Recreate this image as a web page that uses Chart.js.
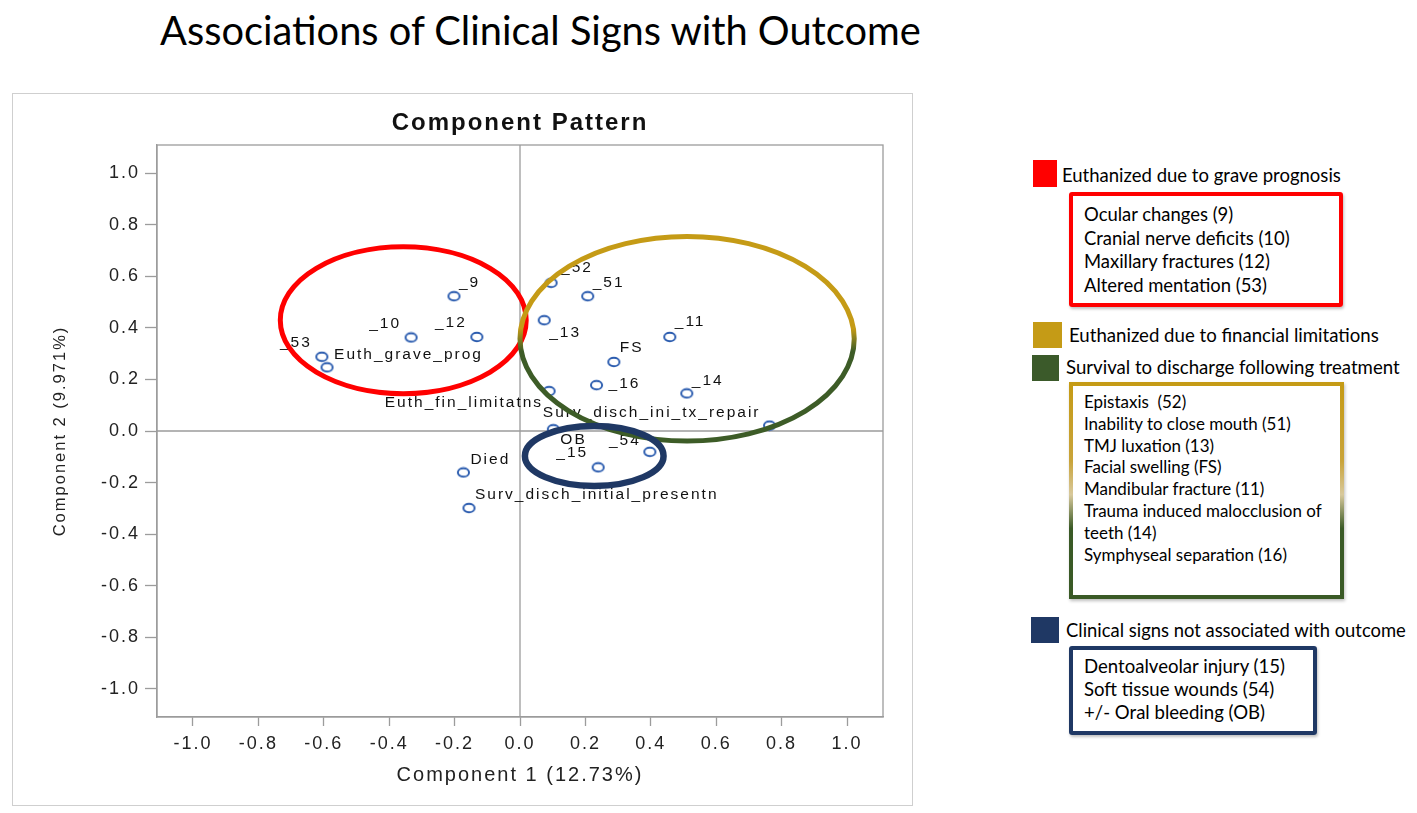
<!DOCTYPE html>
<html>
<head>
<meta charset="utf-8">
<title>Associations of Clinical Signs with Outcome</title>
<script src="https://cdn.jsdelivr.net/npm/chart.js@4.4.1/dist/chart.umd.min.js"></script>
<style>
  body { margin: 0; width: 1417px; height: 813px; background: #fff; position: relative; overflow: hidden;
         font-family: Lato, "Noto Sans", sans-serif; color: #000; }
  .abs { position: absolute; }
  .line1 { display: flex; align-items: center; white-space: pre; }
  .line1 span { display: inline-block; }
  #frame { left: 12px; top: 93px; width: 899px; height: 711px; border: 1.5px solid #cfcfcf; }
  .sq { position: absolute; }
  .box { position: absolute; box-sizing: border-box; padding-left: 11px; box-shadow: 1px 2px 3px rgba(0,0,0,0.25); }
  .box div { white-space: pre; }
  .box span { display: inline-block; }
  #redBox { left: 1069px; top: 192px; width: 274px; height: 115px; border: 4px solid #ff0000; border-radius: 3px;
            padding-top: 7px; line-height: 23.5px; }
  #mixBox { left: 1069px; top: 382px; width: 275px; height: 217px; border: 4px solid;
            border-image: linear-gradient(to bottom, #c59b16 0%, #c9a43a 36%, #d8c99c 52%, #3a5a26 68%, #3a5a26 100%) 1;
            padding-top: 5px; line-height: 21.8px; }
  #navyBox { left: 1069px; top: 646px; width: 248px; height: 89px; border: 4px solid #1f3864; border-radius: 3px;
             padding-top: 5px; line-height: 23px; }
</style>
</head>
<body>
<div class="abs line1" id="mainTitle" style="left:160px; top:9px; height:40px;"><span data-fit="761">Associations of Clinical Signs with Outcome</span></div>

<div class="abs" id="frame"><canvas id="myChart" width="899" height="711"></canvas></div>

<div class="sq" style="left:1033px; top:160px; width:24px; height:27px; background:#ff0000;"></div>
<div class="abs line1" style="left:1062px; top:163px; height:24px;"><span data-fit="279">Euthanized due to grave prognosis</span></div>
<div class="box" id="redBox">
  <div><span>Ocular changes (9)</span></div>
  <div><span data-ref="206">Cranial nerve deficits (10)</span></div>
  <div><span>Maxillary fractures (12)</span></div>
  <div><span>Altered mentation (53)</span></div>
</div>

<div class="sq" style="left:1033px; top:322px; width:29px; height:26px; background:#c59b16;"></div>
<div class="abs line1" style="left:1069px; top:323px; height:24px;"><span data-fit="310">Euthanized due to financial limitations</span></div>
<div class="sq" style="left:1032px; top:355px; width:27px; height:26px; background:#3b5a2a;"></div>
<div class="abs line1" style="left:1066px; top:355px; height:24px;"><span data-fit="334">Survival to discharge following treatment</span></div>
<div class="box" id="mixBox">
  <div><span>Epistaxis  (52)</span></div>
  <div><span data-ref="207">Inability to close mouth (51)</span></div>
  <div><span>TMJ luxation (13)</span></div>
  <div><span>Facial swelling (FS)</span></div>
  <div><span>Mandibular fracture (11)</span></div>
  <div><span>Trauma induced malocclusion of</span></div>
  <div><span>teeth (14)</span></div>
  <div><span>Symphyseal separation (16)</span></div>
</div>

<div class="sq" style="left:1031px; top:617px; width:28px; height:26px; background:#1f3864;"></div>
<div class="abs line1" style="left:1066px; top:618px; height:24px;"><span data-fit="340">Clinical signs not associated with outcome</span></div>
<div class="box" id="navyBox">
  <div><span data-ref="201">Dentoalveolar injury (15)</span></div>
  <div><span>Soft tissue wounds (54)</span></div>
  <div><span>+/- Oral bleeding (OB)</span></div>
</div>

<script>
// loadings
const pointLabels = ["_9", "_10", "_12", "_53", "Euth_grave_prog", "_52", "_51", "_13", "_11", "FS", "_16", "_14",
  "Euth_fin_limitatns", "Surv_disch_ini_tx_repair", "OB", "_54", "_15", "Died", "Surv_disch_initial_presentn"];
const component1 = [-0.202, -0.333, -0.132, -0.606, -0.590, 0.095, 0.207, 0.074, 0.458, 0.287, 0.234, 0.510,
  0.089, 0.763, 0.102, 0.397, 0.239, -0.173, -0.156];
const component2 = [0.523, 0.363, 0.365, 0.288, 0.247, 0.575, 0.523, 0.430, 0.365, 0.268, 0.178, 0.146,
  0.155, 0.021, 0.007, -0.081, -0.141, -0.161, -0.299];
const axisTicks = [-1.0, -0.8, -0.6, -0.4, -0.2, 0.0, 0.2, 0.4, 0.6, 0.8, 1.0];

// outcome groups circled on the plot (centre and radii in component units)
const groupNames = ["Euthanized due to grave prognosis", "Financial limitations / survival to discharge", "Not associated with outcome"];
const groupCenterX = [-0.357, 0.511, 0.227];
const groupCenterY = [0.430, 0.358, -0.097];
const groupRadiusX = [0.376, 0.511, 0.212];
const groupRadiusY = [0.285, 0.397, 0.116];

const plotFont = '"Liberation Sans", Arial, sans-serif';

// where each label sits next to its point: [dx, dy, align]
const labelPlacement = {
  "_9": [5, -14, "left"], "_10": [-10, -14, "right"], "_12": [-10, -14, "right"], "_53": [-10, -14, "right"],
  "Euth_grave_prog": [7, -13, "left"], "_52": [10, -15, "left"], "_51": [5, -14, "left"], "_13": [5, 13, "left"],
  "_11": [5, -15, "left"], "FS": [6, -14, "left"], "_16": [12, -1, "left"], "_14": [5, -13, "left"],
  "Euth_fin_limitatns": [-6, 12, "right"], "Surv_disch_ini_tx_repair": [-9, -13, "right"], "OB": [7, 11, "left"],
  "_54": [-9, -11, "right"], "_15": [-10, -15, "right"], "Died": [7, -13, "left"],
  "Surv_disch_initial_presentn": [6, -13, "left"]
};
const ellipseStyle = [
  { top: "#ff0000", bottom: "#ff0000", width: 5 },
  { top: "#c59b16", bottom: "#3d5c27", width: 5 },
  { top: "#1f3864", bottom: "#1f3864", width: 6.5 }
];

// fit the legend text widths
document.querySelectorAll("[data-fit]").forEach((el) => {
  el.style.fontSize = "20px";
  const w = el.getBoundingClientRect().width;
  el.style.fontSize = (20 * Number(el.dataset.fit) / w).toFixed(2) + "px";
});
document.querySelectorAll("[data-ref]").forEach((el) => {
  el.style.fontSize = "20px";
  const w = el.getBoundingClientRect().width;
  el.closest(".box").style.fontSize = (20 * Number(el.dataset.ref) / w).toFixed(2) + "px";
  el.style.fontSize = "";
});

// SAS-style open marker, a little wider than tall
const marker = document.createElement("canvas");
marker.width = 15;
marker.height = 12;
(function () {
  const c = marker.getContext("2d");
  c.fillStyle = "#ffffff";
  c.strokeStyle = "#2b5caf";
  c.lineWidth = 1.9;
  c.beginPath();
  c.ellipse(7.5, 6, 5.6, 4.3, 0, 0, Math.PI * 2);
  c.fill();
  c.stroke();
})();

const spacing = {
  id: "spacing",
  beforeDraw(chart) {
    chart.ctx.letterSpacing = "2px";
  }
};

const refLines = {
  id: "refLines",
  beforeDatasetsDraw(chart) {
    const { ctx, chartArea: a, scales: { x, y } } = chart;
    ctx.save();
    ctx.strokeStyle = "#9c9c9c";
    ctx.lineWidth = 1.3;
    ctx.strokeRect(a.left, a.top, a.right - a.left, a.bottom - a.top);
    const x0 = x.getPixelForValue(0);
    const y0 = y.getPixelForValue(0);
    ctx.beginPath();
    ctx.moveTo(x0, a.top);
    ctx.lineTo(x0, a.bottom);
    ctx.moveTo(a.left, y0);
    ctx.lineTo(a.right, y0);
    ctx.stroke();
    ctx.restore();
  }
};

const labels = {
  id: "labels",
  afterDatasetsDraw(chart) {
    const ctx = chart.ctx;
    const meta = chart.getDatasetMeta(0);
    ctx.save();
    ctx.font = "15.5px " + plotFont;
    ctx.fillStyle = "#111";
    ctx.textBaseline = "middle";
    ctx.letterSpacing = "2px";
    meta.data.forEach((pt, i) => {
      const p = labelPlacement[pointLabels[i]] || [6, -13, "left"];
      ctx.textAlign = p[2];
      ctx.fillText(pointLabels[i], pt.x + p[0], pt.y + p[1]);
    });
    ctx.restore();
  }
};

const ellipses = {
  id: "ellipses",
  afterDatasetsDraw(chart) {
    const { ctx, scales: { x, y } } = chart;
    groupNames.forEach((name, i) => {
      const cx = x.getPixelForValue(groupCenterX[i]);
      const cy = y.getPixelForValue(groupCenterY[i]);
      const rx = x.getPixelForValue(groupCenterX[i] + groupRadiusX[i]) - cx;
      const ry = cy - y.getPixelForValue(groupCenterY[i] + groupRadiusY[i]);
      const st = ellipseStyle[i];
      const grad = ctx.createLinearGradient(0, cy - ry, 0, cy + ry);
      grad.addColorStop(0, st.top);
      grad.addColorStop(0.45, st.top);
      grad.addColorStop(0.56, st.bottom);
      grad.addColorStop(1, st.bottom);
      ctx.save();
      ctx.strokeStyle = grad;
      ctx.lineWidth = st.width;
      ctx.beginPath();
      ctx.ellipse(cx, cy, rx, ry, 0, 0, Math.PI * 2);
      ctx.stroke();
      ctx.restore();
    });
  }
};

new Chart(document.getElementById("myChart"), {
  type: "scatter",
  data: {
    datasets: [{
      label: "Loadings",
      data: pointLabels.map((l, i) => ({ x: component1[i], y: component2[i] })),
      pointStyle: marker,
      pointRadius: 6
    }]
  },
  options: {
    responsive: false,
    animation: false,
    layout: { padding: { right: 29 } },
    plugins: {
      legend: { display: false },
      tooltip: { enabled: false },
      title: {
        display: true,
        text: "Component Pattern",
        fullSize: false,
        color: "#111",
        font: { family: plotFont, size: 24, weight: "bold" },
        padding: { top: 15, bottom: 7.2 }
      }
    },
    scales: {
      x: {
        type: "linear",
        min: -1.11,
        max: 1.11,
        afterBuildTicks: (s) => { s.ticks = axisTicks.map((v) => ({ value: v })); },
        afterFit: (s) => { s.height = 88; },
        grid: { drawOnChartArea: false, drawTicks: true, tickLength: 9, tickColor: "#9c9c9c", tickWidth: 1.3 },
        border: { display: true, color: "#9c9c9c", width: 1.3 },
        ticks: { color: "#222", padding: 7, autoSkip: false, maxRotation: 0,
                 font: { family: plotFont, size: 18 }, callback: (v) => v.toFixed(1) },
        title: { display: true, text: "Component 1 (12.73%)", color: "#222",
                 font: { family: plotFont, size: 20 }, padding: { top: 0, bottom: 18 } }
      },
      y: {
        type: "linear",
        min: -1.11,
        max: 1.11,
        afterBuildTicks: (s) => { s.ticks = axisTicks.map((v) => ({ value: v })); },
        afterFit: (s) => { s.width = 144; },
        grid: { drawOnChartArea: false, drawTicks: true, tickLength: 12, tickColor: "#9c9c9c", tickWidth: 1.3 },
        border: { display: true, color: "#9c9c9c", width: 1.3 },
        ticks: { color: "#222", padding: 5, autoSkip: false,
                 font: { family: plotFont, size: 18 }, callback: (v) => v.toFixed(1) },
        title: { display: true, text: "Component 2 (9.971%)", color: "#222",
                 font: { family: plotFont, size: 16.5 }, padding: { top: 38, bottom: 0 } }
      }
    }
  },
  plugins: [spacing, refLines, labels, ellipses]
});
</script>
</body>
</html>
